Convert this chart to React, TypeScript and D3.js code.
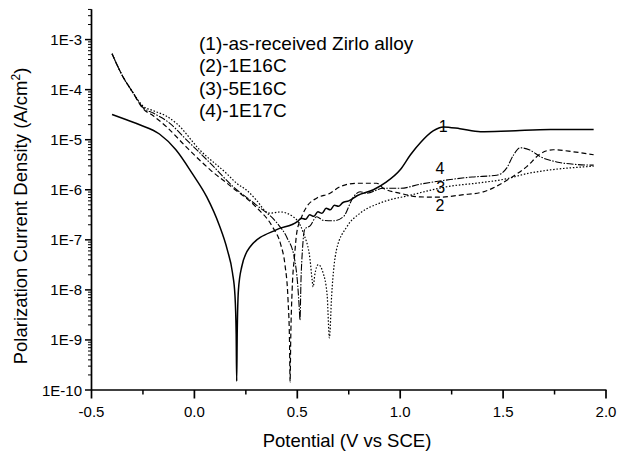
import React from "react";
import * as d3 from "d3";

// ---------- data ----------
const c1V = [-0.40, -0.33, -0.26, -0.17, -0.09, -0.01, 0.06, 0.12, 0.16, 0.185, 0.197, 0.203, 0.2055, 0.208, 0.214, 0.23, 0.27, 0.40, 0.50, 0.52, 0.54, 0.56, 0.58, 0.60, 0.62, 0.64, 0.66, 0.68, 0.70, 0.72, 0.75, 0.79, 0.87, 0.93, 1.0, 1.05, 1.10, 1.16, 1.21, 1.29, 1.39, 1.53, 1.73, 1.94];
const c1I = [3.2e-5, 2.5e-5, 1.95e-5, 1.3e-5, 6.3e-6, 2.1e-6, 7.2e-7, 2.0e-7, 6.3e-8, 2.2e-8, 7.9e-9, 1.3e-9, 1.5e-10, 1.3e-9, 1.0e-8, 2.9e-8, 7.2e-8, 1.6e-7, 2.3e-7, 2.7e-7, 2.57e-7, 3.16e-7, 2.95e-7, 3.63e-7, 3.39e-7, 4.27e-7, 3.98e-7, 4.9e-7, 4.68e-7, 5.5e-7, 6.0e-7, 7.6e-7, 1.0e-6, 1.4e-6, 2.5e-6, 5.0e-6, 8.9e-6, 1.5e-5, 1.8e-5, 1.66e-5, 1.45e-5, 1.5e-5, 1.6e-5, 1.6e-5];

const c2V = [-0.40, -0.35, -0.30, -0.25, -0.20, -0.135, -0.04, 0.077, 0.18, 0.30, 0.38, 0.42, 0.44, 0.455, 0.462, 0.465, 0.468, 0.475, 0.487, 0.497, 0.52, 0.546, 0.594, 0.659, 0.708, 0.789, 0.886, 0.918, 1.0, 1.096, 1.19, 1.30, 1.404, 1.534, 1.615, 1.68, 1.744, 1.84, 1.94];
const c2I = [5.2e-4, 1.9e-4, 8.9e-5, 4.2e-5, 3.0e-5, 1.8e-5, 7.2e-6, 2.5e-6, 1.15e-6, 4.5e-7, 1.8e-7, 7.9e-8, 3.2e-8, 6.3e-9, 1.0e-9, 1.45e-10, 1.0e-9, 1.0e-8, 5.0e-8, 1.35e-7, 2.8e-7, 4.6e-7, 6.8e-7, 8.5e-7, 1.15e-6, 1.35e-6, 1.35e-6, 1.07e-6, 8.5e-7, 7.2e-7, 7.1e-7, 7.9e-7, 9.1e-7, 1.7e-6, 2.9e-6, 5.2e-6, 6.3e-6, 5.75e-6, 5.0e-6];

const c3V = [-0.40, -0.35, -0.30, -0.25, -0.20, -0.135, -0.086, 0.027, 0.157, 0.205, 0.254, 0.30, 0.351, 0.368, 0.416, 0.48, 0.53, 0.562, 0.572, 0.577, 0.585, 0.602, 0.625, 0.645, 0.656, 0.667, 0.69, 0.74, 0.805, 0.90, 1.05, 1.227, 1.40, 1.518, 1.615, 1.70, 1.94];
const c3I = [5.2e-4, 1.9e-4, 8.9e-5, 4.7e-5, 3.8e-5, 2.95e-5, 2.1e-5, 6.2e-6, 2.1e-6, 1.35e-6, 9.8e-7, 6.3e-7, 3.6e-7, 3.4e-7, 3.6e-7, 2.9e-7, 1.35e-7, 4.0e-8, 1.6e-8, 1.15e-8, 2.0e-8, 3.2e-8, 2.2e-8, 7.9e-9, 1.1e-9, 7.9e-9, 6.2e-8, 1.8e-7, 3.4e-7, 5.4e-7, 7.8e-7, 1.15e-6, 1.4e-6, 1.66e-6, 2.1e-6, 2.4e-6, 2.95e-6];

const c4V = [-0.40, -0.35, -0.30, -0.25, -0.20, -0.127, -0.037, 0.077, 0.189, 0.30, 0.40, 0.45, 0.485, 0.502, 0.510, 0.513, 0.518, 0.525, 0.537, 0.562, 0.594, 0.626, 0.675, 0.724, 0.773, 0.805, 0.837, 0.918, 1.0, 1.1, 1.243, 1.35, 1.469, 1.517, 1.55, 1.582, 1.63, 1.68, 1.76, 1.857, 1.94];
const c4I = [5.2e-4, 1.9e-4, 8.9e-5, 4.4e-5, 3.4e-5, 2.25e-5, 9.8e-6, 3.4e-6, 1.15e-6, 5.0e-7, 2.2e-7, 1.1e-7, 4.5e-8, 1.25e-8, 4.0e-9, 2.5e-9, 1.6e-8, 6.3e-8, 1.65e-7, 1.9e-7, 2.9e-7, 2.45e-7, 2.4e-7, 2.9e-7, 7.2e-7, 9.1e-7, 8.5e-7, 1.07e-6, 1.07e-6, 1.3e-6, 1.6e-6, 1.8e-6, 1.95e-6, 2.7e-6, 4.9e-6, 6.9e-6, 6.2e-6, 4.6e-6, 3.6e-6, 3.2e-6, 3.1e-6];

const xMajor = [-0.5, 0, 0.5, 1.0, 1.5, 2.0];
const xMajorLabels = ["-0.5", "0.0", "0.5", "1.0", "1.5", "2.0"];
const xMinor = [-0.25, 0.25, 0.75, 1.25, 1.75];
const yExponents = [-10, -9, -8, -7, -6, -5, -4, -3];
const yLabels = ["1E-10", "1E-9", "1E-8", "1E-7", "1E-6", "1E-5", "1E-4", "1E-3"];

const legendLines = ["(1)-as-received Zirlo alloy", "(2)-1E16C", "(3)-5E16C", "(4)-1E17C"];
const curveTags = ["1", "2", "3", "4"];
const curveTagV = [1.209, 1.193, 1.197, 1.193];
const curveTagI = [1.43e-5, 3.74e-7, 8.75e-7, 2.09e-6];

// ---------- layout ----------
const W = 618, H = 455;
const font = "'Liberation Sans', Arial, Helvetica, sans-serif";

export default function App() {
  const x = d3.scaleLinear().domain([-0.5, 2.0]).range([91.5, 606]);
  const y = d3.scaleLog().domain([1e-10, Math.pow(10, -2.395)]).range([390, 9.3]);

  const line = d3
    .line<[number, number]>()
    .x((d) => x(d[0]))
    .y((d) => y(d[1]))
    .curve(d3.curveMonotoneX);

  const zip = (v: number[], i: number[]) => v.map((vv, k) => [vv, i[k]] as [number, number]);

  const curves = [
    { d: zip(c1V, c1I), dash: "none", w: 1.5 },
    { d: zip(c2V, c2I), dash: "5,3", w: 1.2 },
    { d: zip(c3V, c3I), dash: "1.5,1.8", w: 1.2 },
    { d: zip(c4V, c4I), dash: "7,1.5,1.5,1.5", w: 1.1 },
  ];

  const yMinor: number[] = [];
  for (let e = -10; e <= -3; e++) {
    for (let k = 2; k <= 9; k++) {
      const v = k * Math.pow(10, e);
      if (v <= Math.pow(10, -2.395)) yMinor.push(v);
    }
  }

  return (
    <svg
      width={W}
      height={H}
      style={{ position: "fixed", left: 0, top: 0, background: "#fff" }}
      fontFamily={font}
    >
      <rect width={W} height={H} fill="#fff" />
      {/* curves */}
      {curves.map((c, i) => (
        <path
          key={i}
          d={line(c.d) || ""}
          fill="none"
          stroke="#000"
          strokeWidth={c.w}
          strokeDasharray={c.dash}
          strokeLinejoin="round"
        />
      ))}

      {/* axes */}
      <line x1={91.5} x2={91.5} y1={y.range()[1]} y2={390} stroke="#000" strokeWidth={1.7} />
      <line x1={91.5} x2={606.5} y1={390} y2={390} stroke="#000" strokeWidth={1.7} />

      {yMinor.map((v, i) => (
        <line key={"ym" + i} x1={88} x2={91.5} y1={y(v)} y2={y(v)} stroke="#000" strokeWidth={1} />
      ))}
      {yExponents.map((e, i) => (
        <g key={"y" + i}>
          <line x1={85} x2={91.5} y1={y(Math.pow(10, e))} y2={y(Math.pow(10, e))} stroke="#000" strokeWidth={1.5} />
          <text x={82} y={y(Math.pow(10, e)) + 5.5} textAnchor="end" fontSize={15}>
            {yLabels[i]}
          </text>
        </g>
      ))}

      {xMinor.map((v, i) => (
        <line key={"xm" + i} x1={x(v)} x2={x(v)} y1={390} y2={394.5} stroke="#000" strokeWidth={1.5} />
      ))}
      {xMajor.map((v, i) => (
        <g key={"x" + i}>
          <line x1={x(v)} x2={x(v)} y1={390} y2={398.5} stroke="#000" strokeWidth={1.7} />
          <text x={x(v)} y={416.5} textAnchor="middle" fontSize={15}>
            {xMajorLabels[i]}
          </text>
        </g>
      ))}

      {/* axis titles */}
      <text x={347} y={446.5} textAnchor="middle" fontSize={18.5}>
        Potential (V vs SCE)
      </text>
      <text transform="translate(26.5,216) rotate(-90)" textAnchor="middle" fontSize={18.5}>
        Polarization Current Density (A/cm
        <tspan dy={-7} fontSize={12}>2</tspan>
        <tspan dy={7}>)</tspan>
      </text>

      {/* legend */}
      {legendLines.map((t, i) => (
        <text key={"l" + i} x={199} y={50 + i * 22.4} fontSize={19}>
          {t}
        </text>
      ))}

      {/* curve tags */}
      {curveTags.map((t, i) => (
        <text key={"t" + i} x={x(curveTagV[i])} y={y(curveTagI[i])} textAnchor="middle" fontSize={16}>
          {t}
        </text>
      ))}
    </svg>
  );
}
